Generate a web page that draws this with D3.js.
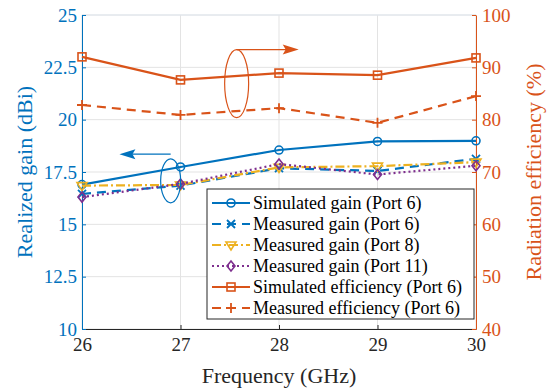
<!DOCTYPE html>
<html>
<head>
<meta charset="utf-8">
<script src="https://cdn.jsdelivr.net/npm/d3@7"></script>
<style>
  body { margin: 0; background: #fff; }
  svg, svg text { font-family: "Liberation Serif", "DejaVu Serif", serif; }
</style>
</head>
<body>
<div id="chart"></div>
<script>
// data
var freq = [26, 27, 28, 29, 30]
var simGain6 = [16.9, 17.74, 18.55, 18.96, 18.99]
var measGain6 = [16.45, 16.85, 17.68, 17.55, 18.13]
var measGain8 = [16.85, 16.88, 17.72, 17.78, 17.97]
var measGain11 = [16.3, 16.93, 17.88, 17.38, 17.8]
var simEff6 = [92.0, 87.6, 88.9, 88.5, 91.8]
var measEff6 = [82.8, 80.9, 82.2, 79.4, 84.5]

var xTicks = [26, 27, 28, 29, 30]
var gainTicks = [10, 12.5, 15, 17.5, 20, 22.5, 25]
var effTicks = [40, 50, 60, 70, 80, 90, 100]

var blue = '#0072BD', orange = '#D95319', yellow = '#EDB120', purple = '#7E2F8E'
var serif = '"Liberation Serif", "DejaVu Serif", serif'

var width = 552, height = 390
var margin = {left: 82, right: 76, top: 15, bottom: 61}

var svg = d3.select('#chart').append('svg')
  .attr('width', width).attr('height', height)

var x = d3.scaleLinear().domain([26, 30]).range([margin.left, width - margin.right])
var yL = d3.scaleLinear().domain([10, 25]).range([height - margin.bottom, margin.top])
var yR = d3.scaleLinear().domain([40, 100]).range([height - margin.bottom, margin.top])

// grid
var grid = svg.append('g')
grid.selectAll('.vg').data(xTicks).enter().append('line')
  .attr('x1', d => x(d)).attr('x2', d => x(d))
  .attr('y1', margin.top).attr('y2', height - margin.bottom)
  .attr('stroke', '#e3e3e3').attr('stroke-width', 1)
grid.selectAll('.hg').data(gainTicks).enter().append('line')
  .attr('x1', margin.left).attr('x2', width - margin.right)
  .attr('y1', d => yL(d)).attr('y2', d => yL(d))
  .attr('stroke', '#e3e3e3').attr('stroke-width', 1)

// top box line
svg.append('line')
  .attr('x1', margin.left).attr('x2', width - margin.right)
  .attr('y1', margin.top).attr('y2', margin.top)
  .attr('stroke', '#dfe6ee')

var fmt = d => d3.format('')(d)

function styleAxis(g, color) {
  g.attr('font-family', serif)
  g.select('.domain').attr('stroke', color)
  g.selectAll('line').attr('stroke', color)
  g.selectAll('text').attr('fill', color)
    .style('font-family', serif).style('font-size', '19px')
}

// axes
var xAxis = svg.append('g')
  .attr('transform', 'translate(0,' + (height - margin.bottom) + ')')
  .call(d3.axisBottom(x).tickValues(xTicks).tickSize(-4).tickSizeOuter(0).tickPadding(9).tickFormat(fmt))
styleAxis(xAxis, '#262626')

var leftAxis = svg.append('g')
  .attr('transform', 'translate(' + margin.left + ',0)')
  .call(d3.axisLeft(yL).tickValues(gainTicks).tickSize(-4).tickSizeOuter(0).tickPadding(5).tickFormat(fmt))
styleAxis(leftAxis, blue)

var rightAxis = svg.append('g')
  .attr('transform', 'translate(' + (width - margin.right) + ',0)')
  .call(d3.axisRight(yR).tickValues(effTicks).tickSize(-4).tickSizeOuter(0).tickPadding(6).tickFormat(fmt))
styleAxis(rightAxis, orange)

// axis titles
svg.append('text')
  .attr('x', (margin.left + width - margin.right) / 2).attr('y', height - 7)
  .attr('text-anchor', 'middle').attr('fill', '#262626')
  .style('font-family', serif).style('font-size', '22px')
  .text('Frequency (GHz)')
svg.append('text')
  .attr('transform', 'translate(32,' + yL(17.5) + ') rotate(-90)')
  .attr('text-anchor', 'middle').attr('fill', blue)
  .style('font-family', serif).style('font-size', '22px')
  .text('Realized gain (dBi)')
svg.append('text')
  .attr('transform', 'translate(' + (width - 11) + ',' + yR(70) + ') rotate(-90)')
  .attr('text-anchor', 'middle').attr('fill', orange)
  .style('font-family', serif).style('font-size', '22px')
  .text('Radiation efficiency (%)')

// marker shapes
function drawMarker(g, type, cx, cy, color) {
  var s = 4
  if (type == 'circle') {
    g.append('circle').attr('cx', cx).attr('cy', cy).attr('r', s)
      .attr('fill', 'none').attr('stroke', color).attr('stroke-width', 1.6)
  } else if (type == 'x') {
    g.append('path').attr('d', 'M' + (cx - s) + ',' + (cy - s) + 'L' + (cx + s) + ',' + (cy + s) +
      'M' + (cx - s) + ',' + (cy + s) + 'L' + (cx + s) + ',' + (cy - s))
      .attr('stroke', color).attr('stroke-width', 1.8)
  } else if (type == 'tri') {
    g.append('path').attr('d', 'M' + (cx - s - 1) + ',' + (cy - s + 1) + 'L' + (cx + s + 1) + ',' + (cy - s + 1) + 'L' + cx + ',' + (cy + s + 1) + 'Z')
      .attr('fill', 'none').attr('stroke', color).attr('stroke-width', 1.6)
  } else if (type == 'diamond') {
    g.append('path').attr('d', 'M' + cx + ',' + (cy - s - 1) + 'L' + (cx + s) + ',' + cy + 'L' + cx + ',' + (cy + s + 1) + 'L' + (cx - s) + ',' + cy + 'Z')
      .attr('fill', 'none').attr('stroke', color).attr('stroke-width', 1.6)
  } else if (type == 'square') {
    g.append('rect').attr('x', cx - s).attr('y', cy - s).attr('width', 2 * s).attr('height', 2 * s)
      .attr('fill', 'none').attr('stroke', color).attr('stroke-width', 1.6)
  } else if (type == 'plus') {
    g.append('path').attr('d', 'M' + (cx - s - 1) + ',' + cy + 'L' + (cx + s + 1) + ',' + cy +
      'M' + cx + ',' + (cy - s - 1) + 'L' + cx + ',' + (cy + s + 1))
      .attr('stroke', color).attr('stroke-width', 1.8)
  }
}

var series = [
  {name: 'Simulated gain (Port 6)', values: simGain6, y: yL, color: blue, dash: null, marker: 'circle'},
  {name: 'Measured gain (Port 6)', values: measGain6, y: yL, color: blue, dash: '9,6', marker: 'x'},
  {name: 'Measured gain (Port 8)', values: measGain8, y: yL, color: yellow, dash: '9,3,2,3', marker: 'tri'},
  {name: 'Measured gain (Port 11)', values: measGain11, y: yL, color: purple, dash: '2,3', marker: 'diamond'},
  {name: 'Simulated efficiency (Port 6)', values: simEff6, y: yR, color: orange, dash: null, marker: 'square'},
  {name: 'Measured efficiency (Port 6)', values: measEff6, y: yR, color: orange, dash: '9,6', marker: 'plus'}
]

var plot = svg.append('g')
series.forEach(function(s) {
  var line = d3.line().x((d, i) => x(freq[i])).y(d => s.y(d))
  plot.append('path').datum(s.values)
    .attr('d', line)
    .attr('fill', 'none')
    .attr('stroke', s.color)
    .attr('stroke-width', 2.2)
    .attr('stroke-dasharray', s.dash)
  var mg = plot.append('g')
  s.values.forEach(function(v, i) {
    drawMarker(mg, s.marker, x(freq[i]), s.y(v), s.color)
  })
})

// annotation ellipses with arrows
var ann = svg.append('g')
ann.append('ellipse').attr('cx', x(27.57)).attr('cy', yR(86.9)).attr('rx', 12).attr('ry', 34)
  .attr('fill', 'none').attr('stroke', orange).attr('stroke-width', 1.2)
ann.append('line').attr('x1', x(27.57)).attr('x2', x(28.15)).attr('y1', yR(93.4)).attr('y2', yR(93.4))
  .attr('stroke', orange).attr('stroke-width', 1.2)
ann.append('path')
  .attr('d', 'M' + x(28.2) + ',' + yR(93.4) + 'l-16,-5 l3,5 l-3,5 z')
  .attr('fill', orange)

ann.append('ellipse').attr('cx', x(26.9)).attr('cy', yL(17.08)).attr('rx', 10).attr('ry', 22)
  .attr('fill', 'none').attr('stroke', blue).attr('stroke-width', 1.2)
ann.append('line').attr('x1', x(26.9)).attr('x2', x(26.45)).attr('y1', yL(18.35)).attr('y2', yL(18.35))
  .attr('stroke', blue).attr('stroke-width', 1.2)
ann.append('path')
  .attr('d', 'M' + x(26.38) + ',' + yL(18.35) + 'l16,-5 l-3,5 l3,5 z')
  .attr('fill', blue)

// legend
var lg = svg.append('g').attr('transform', 'translate(207,189)')
lg.append('rect').attr('width', 267).attr('height', 130)
  .attr('fill', '#fff').attr('stroke', '#262626').attr('stroke-width', 1)
series.forEach(function(s, i) {
  var yy = 14 + i * 21
  lg.append('line').attr('x1', 5).attr('x2', 43).attr('y1', yy).attr('y2', yy)
    .attr('stroke', s.color).attr('stroke-width', 2.2).attr('stroke-dasharray', s.dash)
  drawMarker(lg, s.marker, 24, yy, s.color)
  lg.append('text').attr('x', 46).attr('y', yy + 6)
    .attr('fill', '#000')
    .style('font-family', serif).style('font-size', '18px')
    .text(s.name)
})
</script>
</body>
</html>
